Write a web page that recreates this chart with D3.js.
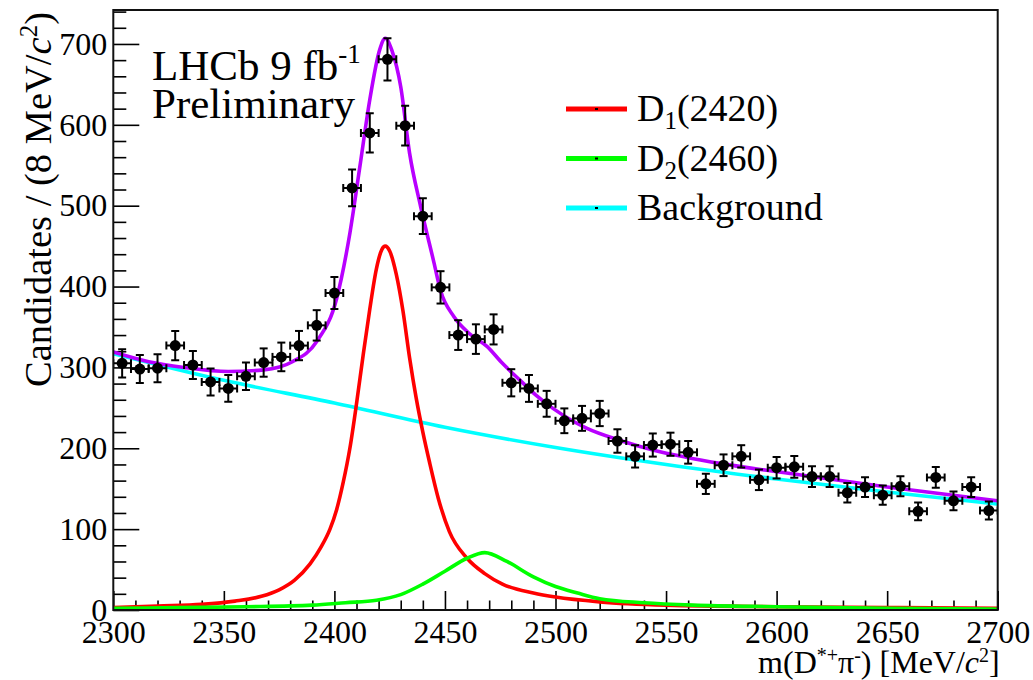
<!DOCTYPE html>
<html>
<head>
<meta charset="utf-8">
<script src="https://cdn.jsdelivr.net/npm/d3@7"></script>
<style>
  html, body { margin: 0; padding: 0; background: #fff; }
  svg { display: block; }
  text { font-family: "Liberation Serif", "Times New Roman", "DejaVu Serif", serif; fill: #000; }
</style>
</head>
<body>
<svg id="chart" width="1033" height="680"></svg>
<script>
// Bin centres of m(D*+ pi-) histogram [MeV/c^2], 8 MeV bins
const binCenters = [2304,2312,2320,2328,2336,2344,2352,2360,2368,2376,
                    2384,2392,2400,2408,2416,2424,2432,2440,2448,2456,
                    2464,2472,2480,2488,2496,2504,2512,2520,2528,2536,
                    2544,2552,2560,2568,2576,2584,2592,2600,2608,2616,
                    2624,2632,2640,2648,2656,2664,2672,2680,2688,2696];
// Candidates per bin
const counts = [305,298,299,327,303,282,274,289,306,313,
                327,352,392,522,590,681,599,487,399,340,
                335,347,281,274,255,234,237,243,209,190,
                204,205,195,156,179,190,161,176,177,165,
                165,145,152,142,153,122,164,135,152,123];
// Statistical uncertainty per bin
const countErrors = [17.5,17.3,17.3,18.1,17.4,16.8,16.6,17.0,17.5,17.7,
                     18.1,18.8,19.8,22.8,24.3,26.1,24.5,22.1,20.0,18.4,
                     18.3,18.6,16.8,16.6,16.0,15.3,15.4,15.6,14.5,13.8,
                     14.3,14.3,14.0,12.5,13.4,13.8,12.7,13.3,13.3,12.8,
                     12.8,12.0,12.3,11.9,12.4,11.0,12.8,11.6,12.3,11.1];
const binHalfWidth = 4;

// Fit components sampled along the mass axis
const bgMass   = [2300,2350,2400,2450,2500,2550,2600,2650,2700];
const bgVals   = [317,284,256,226,201,180,162,146,131];

const d1Mass   = [2300,2320,2340,2355,2367,2375,2382,2389,2394,2398,2401,2404,2407,2410,2413,2416,2419,2421.5,2423,2425,2428,2431,2434,2437,2440,2443,2447,2452,2460,2468,2476,2490,2500,2520,2550,2600,2650,2700];
const d1Vals   = [3,5,7,11,17,25,37,57,78,100,124,158,200,255,315,372,422,446,450,444,415,370,312,262,220,183,138,97,64,45,32,21,16,10,6,4,3,2];

const d2Mass   = [2300,2330,2360,2390,2405,2419,2430,2440,2450,2460,2468,2478,2490,2500,2510,2520,2540,2562,2600,2650,2700];
const d2Vals   = [2,3,4,6,9,12,19,32,48,64,71,60,41,29,21,14,9,6,4,2,1];

const totMass  = [2300,2316,2332,2352,2368,2381,2392,2401,2407,2411.5,2416,2420.5,2423,2426,2430,2434,2439,2445,2448,2454,2461,2469,2476,2484,2491,2499,2507,2514,2529,2544,2559,2575,2611,2650,2700];
const totVals  = [319,307,300,295,297,307,332,385,466,548,631,693,707,692,647,565,499,430,395,363,342,326,305,284,266,249,235,225,210,198,189,181,167,152,135];

// Axis ticks
const xMajorTicks = [2300,2350,2400,2450,2500,2550,2600,2650,2700];
const yMajorTicks = [0,100,200,300,400,500,600,700];

const legendLabels = [
  {name: "D", sub: "1", rest: "(2420)", color: "#ff0000"},
  {name: "D", sub: "2", rest: "(2460)", color: "#00ff00"},
  {name: "Background", sub: "", rest: "", color: "#00ffff"}
];

const svg = d3.select("#chart");
const plot = {left: 113.3, right: 997.7, top: 10, bottom: 610};

const x = d3.scaleLinear().domain([2300, 2700]).range([plot.left, plot.right]);
const y = d3.scaleLinear().domain([0, 742]).range([plot.bottom, plot.top]);

svg.append("defs").append("clipPath").attr("id", "plotClip")
  .append("rect")
  .attr("x", plot.left).attr("y", plot.top)
  .attr("width", plot.right - plot.left).attr("height", plot.bottom - plot.top);

// Minor ticks
const xMinor = d3.range(2300, 2701, 10).filter(v => v % 50 !== 0);
const yMinor = d3.range(0, 741, 20).filter(v => v % 100 !== 0);

svg.append("g")
  .attr("transform", `translate(0,${plot.bottom})`)
  .call(d3.axisBottom(x).tickValues(xMinor).tickSize(-9.5).tickFormat(""))
  .call(g => g.select(".domain").remove())
  .call(g => g.selectAll("line").attr("stroke", "#000").attr("stroke-width", 1.6));

svg.append("g")
  .attr("transform", `translate(${plot.left},0)`)
  .call(d3.axisLeft(y).tickValues(yMinor).tickSize(-13).tickFormat(""))
  .call(g => g.select(".domain").remove())
  .call(g => g.selectAll("line").attr("stroke", "#000").attr("stroke-width", 1.6));

// Major ticks with labels
svg.append("g")
  .attr("transform", `translate(0,${plot.bottom})`)
  .call(d3.axisBottom(x).tickValues(xMajorTicks).tickSize(-19).tickPadding(10).tickFormat(d3.format("d")))
  .call(g => g.select(".domain").remove())
  .call(g => g.selectAll("line").attr("stroke", "#000").attr("stroke-width", 1.6))
  .call(g => g.selectAll("text").attr("font-size", 32).attr("fill", "#000"));

svg.append("g")
  .attr("transform", `translate(${plot.left},0)`)
  .call(d3.axisLeft(y).tickValues(yMajorTicks).tickSize(-26).tickPadding(6).tickFormat(d3.format("d")))
  .call(g => g.select(".domain").remove())
  .call(g => g.selectAll("line").attr("stroke", "#000").attr("stroke-width", 1.6))
  .call(g => g.selectAll("text").attr("font-size", 32).attr("fill", "#000"));

// Fit curves
const curves = svg.append("g").attr("clip-path", "url(#plotClip)");
function drawCurve(ms, vs, color) {
  const pts = ms.map((m, i) => [m, vs[i]]);
  curves.append("path")
    .datum(pts)
    .attr("fill", "none")
    .attr("stroke", color)
    .attr("stroke-width", 3.6)
    .attr("stroke-linejoin", "round")
    .attr("d", d3.line().x(d => x(d[0])).y(d => y(d[1])).curve(d3.curveMonotoneX));
}
drawCurve(bgMass, bgVals, "#00ffff");
drawCurve(d1Mass, d1Vals, "#ff0000");
drawCurve(d2Mass, d2Vals, "#00ff00");
drawCurve(totMass, totVals, "#b800ff");

// Data points with error bars
const data = binCenters.map((m, i) => ({m, v: counts[i], e: countErrors[i]}));
const pts = svg.append("g").attr("clip-path", "url(#plotClip)");
const cap = 4;
const errG = pts.selectAll("g.pt").data(data).join("g").attr("class", "pt");
errG.append("line")
  .attr("x1", d => x(d.m)).attr("x2", d => x(d.m))
  .attr("y1", d => y(d.v - d.e)).attr("y2", d => y(d.v + d.e));
errG.append("line")
  .attr("x1", d => x(d.m - binHalfWidth)).attr("x2", d => x(d.m + binHalfWidth))
  .attr("y1", d => y(d.v)).attr("y2", d => y(d.v));
// end caps of the error bars
errG.append("line")
  .attr("x1", d => x(d.m) - cap).attr("x2", d => x(d.m) + cap)
  .attr("y1", d => y(d.v + d.e)).attr("y2", d => y(d.v + d.e));
errG.append("line")
  .attr("x1", d => x(d.m) - cap).attr("x2", d => x(d.m) + cap)
  .attr("y1", d => y(d.v - d.e)).attr("y2", d => y(d.v - d.e));
errG.append("line")
  .attr("x1", d => x(d.m - binHalfWidth)).attr("x2", d => x(d.m - binHalfWidth))
  .attr("y1", d => y(d.v) - cap).attr("y2", d => y(d.v) + cap);
errG.append("line")
  .attr("x1", d => x(d.m + binHalfWidth)).attr("x2", d => x(d.m + binHalfWidth))
  .attr("y1", d => y(d.v) - cap).attr("y2", d => y(d.v) + cap);
errG.selectAll("line").attr("stroke", "#000").attr("stroke-width", 2);
errG.append("circle")
  .attr("cx", d => x(d.m)).attr("cy", d => y(d.v)).attr("r", 5.5).attr("fill", "#000");

// Frame
svg.append("rect")
  .attr("x", plot.left).attr("y", plot.top)
  .attr("width", plot.right - plot.left).attr("height", plot.bottom - plot.top)
  .attr("fill", "none").attr("stroke", "#111").attr("stroke-width", 2);

// Axis titles
const xt = svg.append("text")
  .attr("x", plot.right + 2).attr("y", 673)
  .attr("text-anchor", "end").attr("font-size", 32);
xt.append("tspan").text("m(D");
xt.append("tspan").attr("dy", -11).attr("font-size", 20).text("*+");
xt.append("tspan").attr("dy", 11).text("π");
xt.append("tspan").attr("dy", -11).attr("font-size", 20).text("-");
xt.append("tspan").attr("dy", 11).text(") [MeV/");
xt.append("tspan").attr("font-style", "italic").text("c");
xt.append("tspan").attr("dy", -11).attr("font-size", 20).text("2");
xt.append("tspan").attr("dy", 11).text("]");

const yt = svg.append("text")
  .attr("transform", "translate(51,12) rotate(-90)")
  .attr("text-anchor", "end").attr("font-size", 38.5);
yt.append("tspan").text("Candidates / (8 MeV/");
yt.append("tspan").attr("font-style", "italic").text("c");
yt.append("tspan").attr("dy", -14).attr("font-size", 25).text("2");
yt.append("tspan").attr("dy", 14).text(")");

// Experiment label
const lab = svg.append("text").attr("x", 152).attr("y", 80).attr("font-size", 43);
lab.append("tspan").text("LHCb 9 fb");
lab.append("tspan").attr("dy", -17).attr("font-size", 27).text("-1");
svg.append("text").attr("x", 152).attr("y", 118).attr("font-size", 43).text("Preliminary");

// Legend
const legend = svg.append("g");
legendLabels.forEach((d, i) => {
  const ly = 109 + i * 49.5;
  legend.append("line")
    .attr("x1", 566).attr("x2", 627).attr("y1", ly).attr("y2", ly)
    .attr("stroke", d.color).attr("stroke-width", 5);
  legend.append("rect")
    .attr("x", 595).attr("y", ly - 1).attr("width", 3).attr("height", 2).attr("fill", "#000");
  const t = legend.append("text").attr("x", 637).attr("y", ly + 12).attr("font-size", 38);
  t.append("tspan").text(d.name);
  if (d.sub) {
    t.append("tspan").attr("dy", 8).attr("font-size", 25).text(d.sub);
    t.append("tspan").attr("dy", -8).text(d.rest);
  }
});
</script>
</body>
</html>
